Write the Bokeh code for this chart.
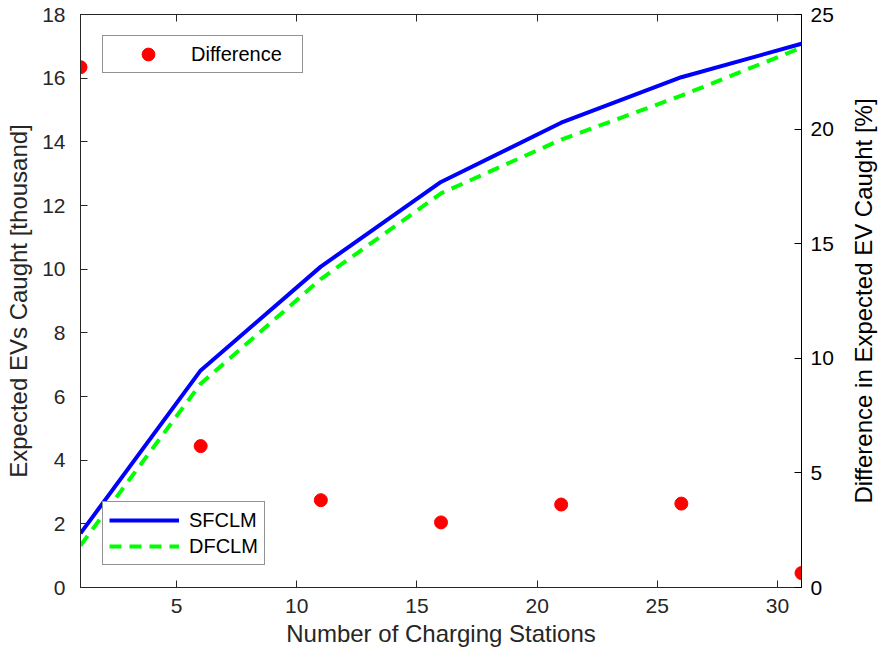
from bokeh.plotting import figure
from bokeh.layouts import row
from bokeh.models import Range1d, LinearAxis, Legend, LegendItem, FixedTicker
from bokeh.embed import file_html
from bokeh.resources import INLINE

stations = [1, 6, 11, 16, 21, 26, 31]
sfclm = [1.70, 6.82, 10.08, 12.74, 14.60, 16.03, 17.08]
dfclm = [1.32, 6.40, 9.69, 12.38, 14.07, 15.45, 16.96]
difference = [22.7, 6.17, 3.81, 2.84, 3.62, 3.66, 0.63]

x_ticks = [5, 10, 15, 20, 25, 30]
left_ticks = [0, 2, 4, 6, 8, 10, 12, 14, 16, 18]
right_ticks = [0, 5, 10, 15, 20, 25]

FONT = "Liberation Sans"
TICK_FS = "21px"
LABEL_FS = "24px"
LEG_FS = "20px"

H = 658
BT, BB = 14, 71

p = figure(width=836, height=H, output_backend="svg", toolbar_location=None,
           x_range=Range1d(1, 31), y_range=Range1d(0, 18),
           min_border_left=80, min_border_right=32, min_border_top=BT, min_border_bottom=BB)
p.extra_y_ranges = {"right": Range1d(0, 25)}
p.grid.visible = False
p.outline_line_color = "#262626"
p.outline_line_width = 1
p.background_fill_color = "white"
p.border_fill_color = "white"

def style(ax):
    ax.major_tick_in = 7
    ax.major_tick_out = 0
    ax.minor_tick_in = 0
    ax.minor_tick_out = 0
    ax.axis_line_color = "#262626"
    ax.major_tick_line_color = "#262626"
    ax.major_label_text_font = FONT
    ax.major_label_text_font_size = TICK_FS
    ax.major_label_text_color = "#262626"
    ax.axis_label_text_font = FONT
    ax.axis_label_text_font_size = LABEL_FS
    ax.axis_label_text_font_style = "normal"
    ax.axis_label_text_color = "#262626"

xa = p.xaxis[0]
xa.ticker = FixedTicker(ticks=x_ticks)
xa.axis_label = "Number of Charging Stations"
style(xa)
xa.major_label_standoff = 11
xa.axis_label_standoff = 4

ya = p.yaxis[0]
ya.ticker = FixedTicker(ticks=left_ticks)
ya.axis_label = "Expected EVs Caught [thousand]"
style(ya)
ya.major_label_standoff = 15
ya.axis_label_standoff = 7

ra = LinearAxis(y_range_name="right", ticker=FixedTicker(ticks=right_ticks))
style(ra)
ra.axis_line_color = "black"
ra.major_tick_line_color = "black"
ra.major_label_text_color = "black"
ra.major_label_standoff = 9
p.add_layout(ra, "right")

ta = LinearAxis(ticker=FixedTicker(ticks=[], minor_ticks=x_ticks))
style(ta)
ta.minor_tick_in = 7
ta.minor_tick_line_color = "#262626"
p.add_layout(ta, "above")

r_sf = p.line(stations, sfclm, line_color="#0000FF", line_width=4)
r_df = p.line(stations, dfclm, line_color="#00FF00", line_width=4, line_dash="12 8")
r_diff = p.scatter(stations, difference, y_range_name="right", marker="circle",
                   size=13, fill_color="#FF0000", line_color="#FF0000")

leg1 = Legend(items=[LegendItem(label="Difference", renderers=[r_diff])],
              location=(22, 514))
leg1.padding = 2
leg1.glyph_width = 86
leg1.glyph_height = 32
leg1.label_standoff = 0
leg1.label_width = 109

leg2 = Legend(items=[LegendItem(label="SFCLM", renderers=[r_sf]),
                     LegendItem(label="DFCLM", renderers=[r_df])],
              location=(22, 22))
leg2.padding = 6
leg2.glyph_width = 70
leg2.glyph_height = 24
leg2.spacing = 2
leg2.label_standoff = 10

for lg in (leg1, leg2):
    lg.label_text_font = FONT
    lg.label_text_font_size = LEG_FS
    lg.label_text_color = "black"
    lg.border_line_color = "#262626"
    lg.border_line_width = 1
    lg.background_fill_alpha = 1
    lg.margin = 0
p.add_layout(leg1, "center")
p.add_layout(leg2, "center")

# narrow strip carrying the right-hand axis title (reads bottom-to-top)
q = figure(width=44, height=H, output_backend="svg", toolbar_location=None,
           x_range=Range1d(0, 1), y_range=Range1d(0, 25),
           min_border_left=40, min_border_right=0, min_border_top=BT, min_border_bottom=BB)
q.outline_line_color = None
q.grid.visible = False
q.xaxis.visible = False
q.background_fill_color = "white"
q.border_fill_color = "white"
qa = q.yaxis[0]
qa.ticker = FixedTicker(ticks=[])
qa.axis_line_color = None
qa.major_tick_line_color = None
qa.minor_tick_line_color = None
qa.major_label_standoff = 0
qa.axis_label = "Difference in Expected EV Caught [%]"
qa.axis_label_text_font = FONT
qa.axis_label_text_font_size = LABEL_FS
qa.axis_label_text_font_style = "normal"
qa.axis_label_text_color = "black"
qa.axis_label_standoff = 0

layout = row(p, q, spacing=0)
open("out.html", "w").write(file_html(layout, INLINE))
